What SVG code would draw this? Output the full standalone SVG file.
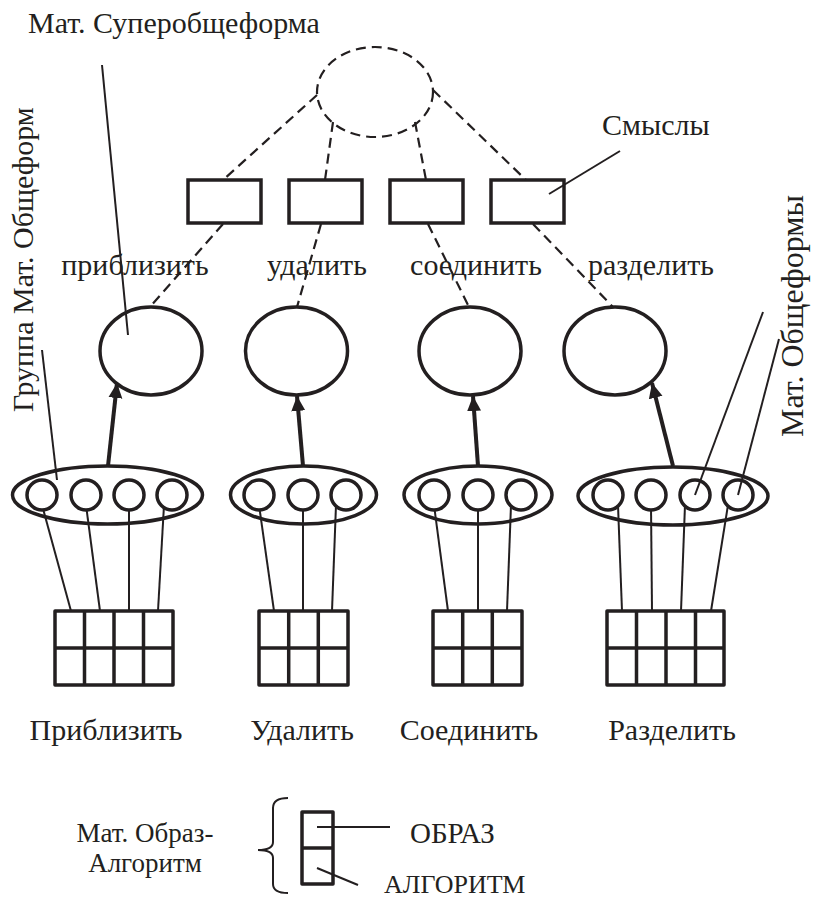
<svg xmlns="http://www.w3.org/2000/svg" width="813" height="899" viewBox="0 0 813 899">
<style>
text{font-family:"Liberation Serif","Times New Roman",serif;fill:#231f20;}
.lbl{font-size:30px;}
.sm{font-size:26px;}
.thick{fill:#fff;stroke:#231f20;stroke-width:3.5;}
.thin{fill:none;stroke:#231f20;stroke-width:2;}
.dash{fill:none;stroke:#231f20;stroke-width:2.2;stroke-dasharray:10 6;}
.arr{fill:none;stroke:#231f20;stroke-width:4;}
.grid{fill:#fff;stroke:#231f20;stroke-width:3.5;stroke-linejoin:round;}
</style>
<defs>
<marker id="ah" markerUnits="userSpaceOnUse" markerWidth="16" markerHeight="16" refX="15" refY="7" orient="auto" viewBox="0 0 16 14">
<path d="M0,0 L15,7 L0,14 z" fill="#231f20"/>
</marker>
</defs>
<rect width="813" height="899" fill="#fff"/>

<g id="superform">
<ellipse cx="375" cy="92" rx="58" ry="45" class="dash"/>
<text class="lbl" x="28" y="33">Мат. Суперобщеформа</text>
</g>

<g id="meanings">
<rect x="188" y="180" width="73" height="43" class="thick"/>
<rect x="289" y="180" width="73" height="43" class="thick"/>
<rect x="390" y="180" width="73" height="43" class="thick"/>
<rect x="491" y="180" width="73" height="43" class="thick"/>
<text class="lbl" x="602" y="135">Смыслы</text>
</g>

<g id="connectors">
<line x1="317" y1="95" x2="223" y2="180" class="dash"/>
<line x1="223" y1="224" x2="150" y2="307" class="dash"/>
<line x1="333" y1="122" x2="325" y2="180" class="dash"/>
<line x1="321" y1="224" x2="297" y2="307" class="dash"/>
<line x1="415" y1="122" x2="426" y2="180" class="dash"/>
<line x1="428" y1="224" x2="469" y2="307" class="dash"/>
<line x1="433" y1="90" x2="526" y2="180" class="dash"/>
<line x1="533" y1="224" x2="613" y2="307" class="dash"/>
<line x1="108" y1="466" x2="117" y2="383" class="arr" marker-end="url(#ah)"/>
<line x1="303" y1="466" x2="297" y2="396" class="arr" marker-end="url(#ah)"/>
<line x1="478" y1="466" x2="473" y2="396" class="arr" marker-end="url(#ah)"/>
<line x1="673" y1="466" x2="652" y2="383" class="arr" marker-end="url(#ah)"/>
</g>

<g id="verbs">
<text class="lbl" x="135" y="275" text-anchor="middle">приблизить</text>
<text class="lbl" x="317" y="275" text-anchor="middle">удалить</text>
<text class="lbl" x="476" y="275" text-anchor="middle">соединить</text>
<text class="lbl" x="651" y="275" text-anchor="middle">разделить</text>
</g>

<g id="forms">
<ellipse cx="151" cy="351" rx="51" ry="44" class="thick"/>
<ellipse cx="296.5" cy="351" rx="51" ry="44" class="thick"/>
<ellipse cx="470" cy="351" rx="51" ry="44" class="thick"/>
<ellipse cx="615" cy="351" rx="51" ry="44" class="thick"/>
</g>

<g id="group1">
<ellipse cx="107.5" cy="495" rx="95" ry="29" class="thick"/>
<g class="thin">
<line x1="42" y1="505" x2="71" y2="611"/>
<line x1="86" y1="505" x2="100" y2="611"/>
<line x1="129" y1="505" x2="129" y2="611"/>
<line x1="164" y1="505" x2="158" y2="611"/>
</g>
<circle cx="42" cy="495" r="15" class="thick"/>
<circle cx="86" cy="495" r="15" class="thick"/>
<circle cx="129" cy="495" r="15" class="thick"/>
<circle cx="172" cy="495" r="15" class="thick"/>
<rect x="55" y="611" width="118" height="74" class="grid"/>
<path d="M84.5,611 V685 M114,611 V685 M143.5,611 V685 M55,648 H173" class="grid"/>
<text class="lbl" x="106" y="740" text-anchor="middle">Приблизить</text>
</g>

<g id="group2">
<ellipse cx="303.5" cy="495" rx="73" ry="29" class="thick"/>
<g class="thin">
<line x1="259" y1="505" x2="274" y2="611"/>
<line x1="303" y1="505" x2="303" y2="611"/>
<line x1="336" y1="505" x2="332" y2="611"/>
</g>
<circle cx="259" cy="495" r="15" class="thick"/>
<circle cx="303" cy="495" r="15" class="thick"/>
<circle cx="346" cy="495" r="15" class="thick"/>
<rect x="259" y="611" width="89" height="74" class="grid"/>
<path d="M288.7,611 V685 M318.3,611 V685 M259,648 H348" class="grid"/>
<text class="lbl" x="302" y="740" text-anchor="middle">Удалить</text>
</g>

<g id="group3">
<ellipse cx="478" cy="495" rx="74" ry="29" class="thick"/>
<g class="thin">
<line x1="434" y1="505" x2="448" y2="611"/>
<line x1="478" y1="505" x2="478" y2="611"/>
<line x1="511" y1="505" x2="507" y2="611"/>
</g>
<circle cx="434" cy="495" r="15" class="thick"/>
<circle cx="478" cy="495" r="15" class="thick"/>
<circle cx="521" cy="495" r="15" class="thick"/>
<rect x="433" y="611" width="89" height="74" class="grid"/>
<path d="M462.7,611 V685 M492.3,611 V685 M433,648 H522" class="grid"/>
<text class="lbl" x="469" y="740" text-anchor="middle">Соединить</text>
</g>

<g id="group4">
<ellipse cx="673" cy="496" rx="95" ry="29" class="thick"/>
<g class="thin">
<line x1="618" y1="505" x2="622" y2="611"/>
<line x1="651" y1="505" x2="652" y2="611"/>
<line x1="685" y1="505" x2="681" y2="611"/>
<line x1="728" y1="505" x2="711" y2="611"/>
</g>
<circle cx="608" cy="495" r="15" class="thick"/>
<circle cx="651" cy="495" r="15" class="thick"/>
<circle cx="695" cy="495" r="15" class="thick"/>
<circle cx="738" cy="495" r="15" class="thick"/>
<rect x="607" y="611" width="117" height="74" class="grid"/>
<path d="M636.5,611 V685 M666,611 V685 M695.5,611 V685 M607,648 H724" class="grid"/>
<text class="lbl" x="672" y="740" text-anchor="middle">Разделить</text>
</g>

<g id="callouts">
<line x1="102" y1="65" x2="128" y2="335" class="thin"/>
<line x1="620" y1="151" x2="549" y2="194" class="thin"/>
<line x1="42" y1="350" x2="57" y2="480" class="thin"/>
<line x1="763" y1="312" x2="695" y2="495" class="thin"/>
<line x1="779" y1="339" x2="738" y2="495" class="thin"/>
<text class="lbl" transform="translate(33,412) rotate(-90)">Группа Мат. Общеформ</text>
<text class="lbl" transform="translate(803,437) rotate(-90)" style="font-size:32px">Мат. Общеформы</text>
</g>

<g id="legend">
<text class="sm" x="145" y="842" text-anchor="middle" style="font-size:27px">Мат. Образ-</text>
<text class="sm" x="145" y="872" text-anchor="middle" style="font-size:27px">Алгоритм</text>
<path d="M288,798 Q273,798 273,808 V842 Q273,850 258,850 Q273,850 273,858 V884 Q273,893 288,893" class="thin" stroke-width="2.5"/>
<rect x="302" y="812" width="31" height="72" class="grid"/>
<line x1="302" y1="848" x2="333" y2="848" class="grid"/>
<line x1="317" y1="827" x2="390" y2="827" class="thin"/>
<line x1="317" y1="868" x2="358" y2="885" class="thin"/>
<text class="sm" x="410" y="843" style="font-size:29px">ОБРАЗ</text>
<text class="sm" x="384" y="893">АЛГОРИТМ</text>
</g>
</svg>
